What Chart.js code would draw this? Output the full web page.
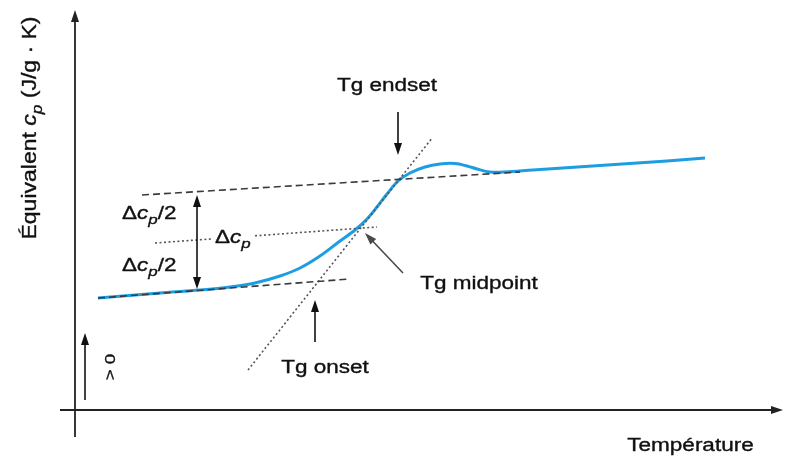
<!DOCTYPE html>
<html><head><meta charset="utf-8">
<script src="https://cdn.jsdelivr.net/npm/chart.js@4/dist/chart.umd.min.js"></script>
<style>html,body{margin:0;padding:0;background:#fff;} #wrap{width:787px;height:462px;position:relative;}</style>
</head><body><div id="wrap"><canvas id="c"></canvas></div>
<script>
// Schematic DSC glass transition: temperature and equivalent cp in arbitrary units (origin at the axes' crossing)
const curveT  = [23, 85, 125, 155, 180, 205, 225, 245, 265, 280, 292, 302, 312, 323, 335, 350, 365, 380, 392, 402, 415, 430, 458, 525, 592, 630];
const curveCp = [112, 117, 120, 123, 127, 134, 142, 154, 169, 180, 191, 203, 216, 229, 237, 243, 246, 246.5, 244, 241, 238, 238, 240, 244.5, 249, 252];
const glassBaseT   = [23, 275];   const glassBaseCp   = [112, 131];
const liquidBaseT  = [67, 445];   const liquidBaseCp  = [215, 238];
const tangentT     = [173, 357];  const tangentCp     = [40, 271.8];
const halfLineT1   = [80, 137];   const halfLineCp1   = [167, 171.1];
const halfLineT2   = [180, 302];  const halfLineCp2   = [174.2, 183];

const pts = (xs, ys) => xs.map((x, i) => ({x: x, y: ys[i]}));
const FAM = '"Liberation Sans", Arial, sans-serif';
const INK = '#111';

function richText(ctx, segs, x, y, o) {
  ctx.save();
  ctx.translate(x, y);
  if (o.rot) ctx.rotate(o.rot);
  ctx.scale(o.stretch || 1.25, 1);
  ctx.fillStyle = o.color || INK;
  ctx.strokeStyle = o.color || INK;
  ctx.lineWidth = 0.35;
  ctx.textBaseline = 'alphabetic';
  ctx.textAlign = 'left';
  const fontFor = s => (s.italic ? 'italic ' : '') + (s.sub ? o.size * 0.75 : o.size) + 'px ' + FAM;
  let total = 0;
  segs.forEach(s => { ctx.font = fontFor(s); total += ctx.measureText(s.t).width; });
  let cx = o.align === 'center' ? -total / 2 : 0;
  segs.forEach(s => {
    ctx.font = fontFor(s);
    const dy = s.sub ? o.size * 0.3 : 0;
    ctx.fillText(s.t, cx, dy);
    ctx.strokeText(s.t, cx, dy);
    cx += ctx.measureText(s.t).width;
  });
  ctx.restore();
}
function head(ctx, x1, y1, x2, y2, hl, hw) {
  const a = Math.atan2(y2 - y1, x2 - x1), c = Math.cos(a), s = Math.sin(a);
  ctx.beginPath();
  ctx.moveTo(x2, y2);
  ctx.lineTo(x2 - c * hl - s * hw, y2 - s * hl + c * hw);
  ctx.lineTo(x2 - c * hl + s * hw, y2 - s * hl - c * hw);
  ctx.closePath(); ctx.fill();
}
function arrow(ctx, x1, y1, x2, y2, o) {
  const hl = o.hl || 12, hw = o.hw || 4, both = o.both;
  const a = Math.atan2(y2 - y1, x2 - x1), c = Math.cos(a), s = Math.sin(a);
  ctx.save();
  ctx.strokeStyle = o.color || INK; ctx.fillStyle = o.color || INK; ctx.lineWidth = o.width || 1.6;
  ctx.beginPath();
  ctx.moveTo(both ? x1 + c * hl * 0.8 : x1, both ? y1 + s * hl * 0.8 : y1);
  ctx.lineTo(x2 - c * hl * 0.8, y2 - s * hl * 0.8);
  ctx.stroke();
  head(ctx, x1, y1, x2, y2, hl, hw);
  if (both) head(ctx, x2, y2, x1, y1, hl, hw);
  ctx.restore();
}

const annot = {
  id: 'annot',
  beforeDatasetsDraw(chart) {
    const ctx = chart.ctx, X = v => chart.scales.x.getPixelForValue(v), Y = v => chart.scales.y.getPixelForValue(v);
    ctx.save();
    ctx.strokeStyle = '#222'; ctx.lineWidth = 1.8;
    ctx.beginPath(); ctx.moveTo(X(0), Y(-27)); ctx.lineTo(X(0), Y(392)); ctx.stroke();
    ctx.beginPath(); ctx.moveTo(X(-15), Y(0)); ctx.lineTo(X(700), Y(0)); ctx.stroke();
    ctx.fillStyle = '#222';
    head(ctx, X(0), Y(380), X(0), Y(400), 12, 4);
    head(ctx, X(690), Y(0), X(708), Y(0), 12, 4);
    ctx.restore();
  },
  afterDatasetsDraw(chart) {
    const ctx = chart.ctx, X = v => chart.scales.x.getPixelForValue(v), Y = v => chart.scales.y.getPixelForValue(v);
    arrow(ctx, X(10), Y(10), X(10), Y(77), {});
    arrow(ctx, X(122), Y(121), X(122), Y(215), {both: true});
    arrow(ctx, X(323), Y(298), X(323), Y(255), {});
    arrow(ctx, X(240), Y(68), X(240), Y(110), {});
    arrow(ctx, X(328), Y(137), X(290), Y(177), {color: '#4a4a4a'});
    richText(ctx, [{t: 'Tg endset'}], X(312), Y(319), {size: 18, align: 'center'});
    richText(ctx, [{t: 'Tg midpoint'}], X(404), Y(121), {size: 18, align: 'center'});
    richText(ctx, [{t: 'Tg onset'}], X(250), Y(37), {size: 18, align: 'center'});
    richText(ctx, [{t: 'Température'}], X(615.5), Y(-41), {size: 18, align: 'center'});
    const dcp2 = [{t: '\u0394'}, {t: 'c', italic: true}, {t: 'p', italic: true, sub: true}, {t: '/2'}];
    richText(ctx, dcp2, X(47), Y(191), {size: 18});
    richText(ctx, dcp2, X(47), Y(139), {size: 18});
    richText(ctx, [{t: '\u0394'}, {t: 'c', italic: true}, {t: 'p', italic: true, sub: true}], X(140), Y(167), {size: 18});
    richText(ctx, [{t: '\u00C9quivalent '}, {t: 'c', italic: true}, {t: 'p', italic: true, sub: true}, {t: ' (J/g \u00B7 K)'}],
      X(-39), Y(282), {size: 20, stretch: 1.15, align: 'center', rot: -Math.PI / 2});
    richText(ctx, [{t: '> 0'}], X(40), Y(43), {size: 15, align: 'center', rot: -Math.PI / 2});
  }
};

const dash = {borderColor: '#3a3a3a', borderWidth: 1.6, borderDash: [7, 4], pointRadius: 0, fill: false, tension: 0};
const dot  = {borderColor: '#555', borderWidth: 1.6, borderDash: [2, 2.5], pointRadius: 0, fill: false, tension: 0};

new Chart(document.getElementById('c'), {
  type: 'line',
  data: {
    datasets: [
      Object.assign({label: 'glass baseline', data: pts(glassBaseT, glassBaseCp)}, dash),
      Object.assign({label: 'liquid baseline', data: pts(liquidBaseT, liquidBaseCp)}, dash),
      Object.assign({label: 'inflection tangent', data: pts(tangentT, tangentCp)}, dot),
      Object.assign({label: 'half step a', data: pts(halfLineT1, halfLineCp1)}, dot),
      Object.assign({label: 'half step b', data: pts(halfLineT2, halfLineCp2)}, dot),
      {label: 'cp', data: pts(curveT, curveCp), borderColor: '#1e9de3', borderWidth: 3, pointRadius: 0,
       fill: false, tension: 0.35, order: 1}
    ]
  },
  options: {
    responsive: true, maintainAspectRatio: false, animation: false,
    layout: {padding: 0},
    scales: {
      x: {type: 'linear', min: -75, max: 712, display: false},
      y: {type: 'linear', min: -52, max: 410, display: false}
    },
    plugins: {legend: {display: false}, tooltip: {enabled: false}}
  },
  plugins: [annot]
});
</script>
</body></html>
